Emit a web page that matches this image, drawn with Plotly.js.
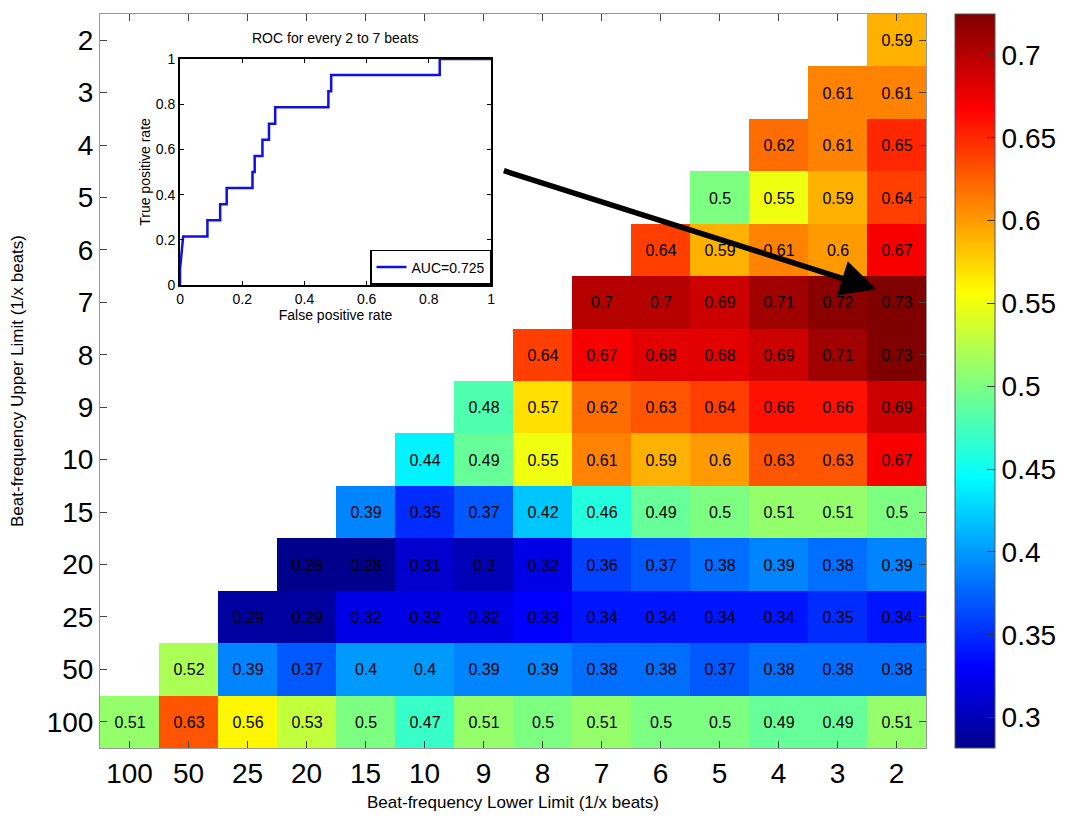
<!DOCTYPE html>
<html><head><meta charset="utf-8">
<script src="https://cdn.plot.ly/plotly-3.0.1.min.js"></script>
<style>html,body{margin:0;padding:0;background:#fff}</style>
</head><body><div id="chart" style="width:1066px;height:819px"></div>
<script>
// Column categories (lower limit) and row categories (upper limit)
const lowerLimits = ['100','50','25','20','15','10','9','8','7','6','5','4','3','2'];
const upperLimits = ['2','3','4','5','6','7','8','9','10','15','20','25','50','100'];

// AUC values per row (only the filled, right-aligned part of each row)
const row_2   = [0.59];
const row_3   = [0.61, 0.61];
const row_4   = [0.62, 0.61, 0.65];
const row_5   = [0.5, 0.55, 0.59, 0.64];
const row_6   = [0.64, 0.59, 0.61, 0.6, 0.67];
const row_7   = [0.7, 0.7, 0.69, 0.71, 0.72, 0.73];
const row_8   = [0.64, 0.67, 0.68, 0.68, 0.69, 0.71, 0.73];
const row_9   = [0.48, 0.57, 0.62, 0.63, 0.64, 0.66, 0.66, 0.69];
const row_10  = [0.44, 0.49, 0.55, 0.61, 0.59, 0.6, 0.63, 0.63, 0.67];
const row_15  = [0.39, 0.35, 0.37, 0.42, 0.46, 0.49, 0.5, 0.51, 0.51, 0.5];
const row_20  = [0.28, 0.28, 0.31, 0.3, 0.32, 0.36, 0.37, 0.38, 0.39, 0.38, 0.39];
const row_25  = [0.29, 0.29, 0.32, 0.32, 0.32, 0.33, 0.34, 0.34, 0.34, 0.34, 0.35, 0.34];
const row_50  = [0.52, 0.39, 0.37, 0.4, 0.4, 0.39, 0.39, 0.38, 0.38, 0.37, 0.38, 0.38, 0.38];
const row_100 = [0.51, 0.63, 0.56, 0.53, 0.5, 0.47, 0.51, 0.5, 0.51, 0.5, 0.5, 0.49, 0.49, 0.51];

// ROC curve for every 2 to 7 beats
const rocFPR = [0, 0, 0.01, 0.088, 0.088, 0.129, 0.129, 0.150, 0.150, 0.233, 0.233, 0.240, 0.240, 0.265, 0.265, 0.286, 0.286, 0.306, 0.306, 0.477, 0.477, 0.486, 0.486, 0.835, 0.835, 1];
const rocTPR = [0, 0.071, 0.214, 0.214, 0.286, 0.286, 0.357, 0.357, 0.429, 0.429, 0.5, 0.5, 0.571, 0.571, 0.643, 0.643, 0.714, 0.714, 0.786, 0.786, 0.857, 0.857, 0.929, 0.929, 1, 1];
const aucLabel = 'AUC=0.725';

const rows = [row_2,row_3,row_4,row_5,row_6,row_7,row_8,row_9,row_10,row_15,row_20,row_25,row_50,row_100];
const n = lowerLimits.length;
const z = rows.map(r => Array(n - r.length).fill(null).concat(r));
const txt = z.map(r => r.map(v => v === null ? '' : String(v)));

const FONT = 'Liberation Sans, Arial, Helvetica, sans-serif';

const heat = {
  type: 'heatmap',
  x: lowerLimits, y: upperLimits, z: z,
  text: txt, texttemplate: '%{text}',
  textfont: {family: FONT, size: 16, color: '#000'},
  zmin: 0.2816, zmax: 0.7247,
  colorscale: [
    [0.0, 'rgb(0,0,140)'],
    [0.11, 'rgb(0,0,255)'],
    [0.37, 'rgb(0,255,255)'],
    [0.62, 'rgb(255,255,0)'],
    [0.87, 'rgb(255,0,0)'],
    [1.0, 'rgb(128,0,0)']
  ],
  showscale: true,
  colorbar: {
    x: 1.0351, xref: 'paper', xanchor: 'left', xpad: 0,
    y: 0.5, yanchor: 'middle', ypad: 0, len: 1, lenmode: 'fraction',
    thickness: 40, thicknessmode: 'pixels',
    outlinewidth: 1, outlinecolor: '#555',
    ticks: 'inside', ticklen: 8, tickcolor: '#333',
    tickvals: [0.3, 0.35, 0.4, 0.45, 0.5, 0.55, 0.6, 0.65, 0.7],
    ticktext: ['0.3','0.35','0.4','0.45','0.5','0.55','0.6','0.65','0.7'],
    tickfont: {family: FONT, size: 28, color: '#000'}
  },
  hoverongaps: false,
  showlegend: false,
  xaxis: 'x', yaxis: 'y'
};

const roc = {
  type: 'scatter', mode: 'lines',
  x: rocFPR, y: rocTPR,
  name: aucLabel,
  line: {color: '#1010e0', width: 2.5},
  xaxis: 'x2', yaxis: 'y2',
  showlegend: true
};

const layout = {
  width: 1066, height: 819,
  margin: {l: 100, r: 140, t: 14, b: 71, autoexpand: false},
  paper_bgcolor: '#fff', plot_bgcolor: 'rgba(0,0,0,0)',
  font: {family: FONT, color: '#000'},
  xaxis: {
    type: 'category', categoryorder: 'array', categoryarray: lowerLimits,
    domain: [0, 1], anchor: 'y',
    showline: true, linecolor: '#999', linewidth: 1, mirror: 'ticks',
    ticks: 'inside', ticklen: 7, tickcolor: '#444',
    showgrid: false, zeroline: false,
    tickfont: {family: FONT, size: 28, color: '#000'},
    title: {text: 'Beat-frequency Lower Limit (1/x beats)', font: {family: FONT, size: 17, color: '#000'}, standoff: 8},
    automargin: false, fixedrange: true
  },
  yaxis: {
    type: 'category', categoryorder: 'array', categoryarray: upperLimits,
    autorange: 'reversed', domain: [0, 1], anchor: 'x',
    showline: true, linecolor: '#999', linewidth: 1, mirror: 'ticks',
    ticks: 'inside', ticklen: 7, tickcolor: '#444',
    showgrid: false, zeroline: false,
    tickfont: {family: FONT, size: 28, color: '#000'},
    title: {text: 'Beat-frequency Upper Limit (1/x beats)', font: {family: FONT, size: 17, color: '#000'}, standoff: 18},
    automargin: false, fixedrange: true
  },
  xaxis2: {
    domain: [0.0969, 0.4734], anchor: 'y2', range: [0, 1],
    showline: true, linecolor: '#000', linewidth: 2, mirror: 'ticks',
    ticks: 'inside', ticklen: 4, tickcolor: '#000',
    tickvals: [0, 0.2, 0.4, 0.6, 0.8, 1],
    showgrid: false, zeroline: false,
    tickfont: {family: FONT, size: 14, color: '#000'},
    title: {text: 'False positive rate', font: {family: FONT, size: 14, color: '#000'}, standoff: 0},
    automargin: false, fixedrange: true
  },
  yaxis2: {
    domain: [0.6308, 0.9387], anchor: 'x2', range: [0, 1],
    showline: true, linecolor: '#000', linewidth: 2, mirror: 'ticks',
    ticks: 'inside', ticklen: 4, tickcolor: '#000',
    tickvals: [0, 0.2, 0.4, 0.6, 0.8, 1],
    showgrid: false, zeroline: false,
    tickfont: {family: FONT, size: 14, color: '#000'},
    title: {text: 'True positive rate', font: {family: FONT, size: 14, color: '#000'}, standoff: 2},
    automargin: false, fixedrange: true
  },
  showlegend: true,
  legend: {
    x: 0.4734, xanchor: 'right', xref: 'paper',
    y: 0.6308, yanchor: 'bottom', yref: 'paper',
    bgcolor: '#fff', bordercolor: '#000', borderwidth: 1.5,
    font: {family: FONT, size: 14, color: '#000'},
    itemwidth: 30, tracegroupgap: 0
  },
  annotations: [
    {
      text: 'ROC for every 2 to 7 beats', showarrow: false,
      xref: 'x2 domain', yref: 'paper', x: 0.5, y: 0.967, xanchor: 'center', yanchor: 'middle',
      font: {family: FONT, size: 14, color: '#000'}
    },
    {
      text: '', showarrow: true,
      xref: 'x', yref: 'y', axref: 'x', ayref: 'y',
      x: 12.66, y: 4.75, ax: 6.32, ay: 2.48,
      arrowhead: 2, arrowsize: 1.3, arrowwidth: 5.5, arrowcolor: '#000', standoff: 0
    }
  ]
};

Plotly.newPlot('chart', [heat, roc], layout, {displayModeBar: false, staticPlot: true});
</script></body></html>
